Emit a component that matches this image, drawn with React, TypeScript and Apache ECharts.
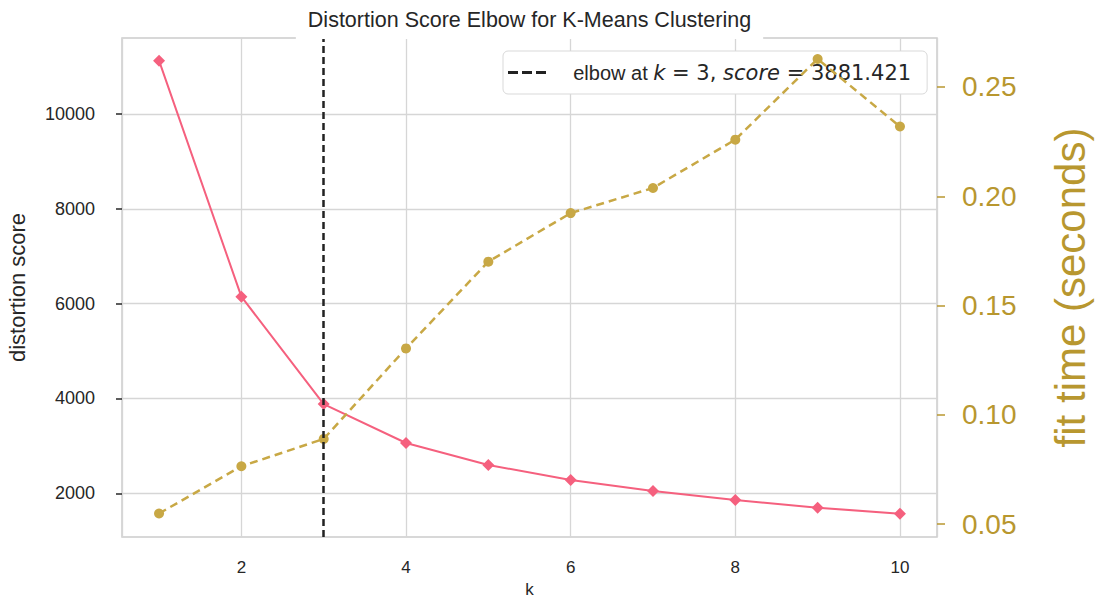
import React, { useEffect, useRef } from "react";
import * as echarts from "echarts";

const kValues = [1, 2, 3, 4, 5, 6, 7, 8, 9, 10];
const distortion = [11127, 6148, 3881.421, 3060, 2596, 2279, 2049, 1858, 1696, 1570];
const fitTime = [0.0549, 0.0765, 0.089, 0.1304, 0.1701, 0.1923, 0.2038, 0.2259, 0.2628, 0.2319];
const elbowK = 3;
const elbowScore = 3881.421;
const xTicks = [2, 4, 6, 8, 10];
const yTicks = [2000, 4000, 6000, 8000, 10000];
const y2Ticks = [0.05, 0.1, 0.15, 0.2, 0.25];

const PINK = "#f5607e";
const GOLD = "#c8a845";
const GOLD_TEXT = "#b8972f";
const TEXT = "#262626";
const FONT = "'Liberation Sans', Arial, sans-serif";

export default function App() {
  const ref = useRef<HTMLDivElement>(null);
  useEffect(() => {
    if (!ref.current) return;
    const chart = echarts.init(ref.current, undefined, { renderer: "svg" });
    const legendName = "elbow";
    chart.setOption({
      animation: false,
      backgroundColor: "#ffffff",
      textStyle: { fontFamily: FONT },
      title: {
        text: "Distortion Score Elbow for K-Means Clustering",
        left: 517.5,
        textAlign: "center",
        top: 0,
        padding: [9, 12, 8, 12],
        backgroundColor: "#ffffff",
        textStyle: { fontSize: 21.5, fontWeight: "normal", color: TEXT, fontFamily: FONT },
        z: 10,
      },
      legend: {
        data: [
          {
            name: legendName,
            icon: "path://M0,0H10V3H0Z M14,0H24V3H14Z M28,0H38V3H28Z",
            itemStyle: { color: "#222222" },
          },
        ],
        left: 503,
        top: 51,
        padding: [11, 16, 11, 5],
        backgroundColor: "#ffffff",
        borderColor: "#d9d9d9",
        borderWidth: 1,
        borderRadius: 5,
        itemWidth: 38,
        itemHeight: 3,
        z: 1,
        selectedMode: false,
        formatter: () =>
          `{n|    elbow at }{i|k}{m| = ${elbowK}, }{i|score}{m| = ${elbowScore}}`,
        textStyle: {
          color: TEXT,
          fontSize: 20,
          rich: {
            n: { fontSize: 20, fontFamily: FONT, color: TEXT },
            i: { fontSize: 21, fontFamily: "'DejaVu Sans'", fontStyle: "italic", color: TEXT },
            m: { fontSize: 21, fontFamily: "'DejaVu Sans'", color: TEXT },
          },
        },
      },
      grid: {
        left: 122,
        right: 160,
        top: 38,
        bottom: 61,
        show: true,
        outerBoundsMode: "none",
        containLabel: false,
        borderColor: "#cccccc",
        borderWidth: 1.5,
        backgroundColor: "#ffffff",
      },
      xAxis: {
        type: "value",
        min: 0.55,
        max: 10.45,
        name: "k",
        nameLocation: "middle",
        nameGap: 42,
        nameTextStyle: { fontSize: 17, color: TEXT },
        axisLine: { show: false },
        axisTick: { show: false },
        axisLabel: {
          customValues: xTicks,
          fontSize: 17,
          color: TEXT,
          margin: 22,
        },
        splitLine: { show: true, lineStyle: { color: "#d6d6d6", width: 1.3 } },
      },
      yAxis: [
        {
          type: "value",
          min: 1077,
          max: 11605,
          name: "distortion score",
          nameLocation: "middle",
          nameGap: 94,
          nameTextStyle: { fontSize: 22, color: TEXT },
          axisLine: { show: false },
          axisTick: { show: true, customValues: yTicks, length: 6, lineStyle: { color: TEXT, width: 1.5 } },
          axisLabel: {
            customValues: yTicks,
            fontSize: 18,
            color: TEXT,
            margin: 27,
            formatter: (v: number) => String(v),
          },
          splitLine: { show: true, lineStyle: { color: "#d6d6d6", width: 1.3 } },
        },
        {
          type: "value",
          min: 0.04415,
          max: 0.2724,
          position: "right",
          name: "fit time (seconds)",
          nameLocation: "middle",
          nameGap: 110,
          nameRotate: 90,
          nameTextStyle: { fontSize: 42, color: GOLD_TEXT, lineHeight: 46 },
          axisLine: { show: false },
          axisTick: { show: true, customValues: y2Ticks, length: 8, lineStyle: { color: GOLD_TEXT, width: 1.5 } },
          axisLabel: {
            customValues: y2Ticks,
            fontSize: 28,
            color: GOLD_TEXT,
            margin: 25,
            formatter: (v: number) => v.toFixed(2),
          },
          splitLine: { show: false },
        },
      ],
      series: [
        {
          name: legendName,
          type: "line",
          data: [],
          symbol: "none",
          z: 2,
          lineStyle: { color: "#222222", width: 2.5, type: [7, 4] },
          itemStyle: { color: "#222222" },
          markLine: {
            silent: true,
            symbol: "none",
            label: { show: false },
            lineStyle: { color: "#222222", width: 2.5, type: [7, 4] },
            data: [{ xAxis: elbowK }],
          },
        },
        {
          name: "distortion",
          type: "line",
          yAxisIndex: 0,
          data: kValues.map((k, i) => [k, distortion[i]]),
          symbol: "diamond",
          symbolSize: 12,
          z: 3,
          lineStyle: { color: PINK, width: 2 },
          itemStyle: { color: PINK },
        },
        {
          name: "fit time",
          type: "line",
          yAxisIndex: 1,
          data: kValues.map((k, i) => [k, fitTime[i]]),
          symbol: "circle",
          symbolSize: 10,
          z: 4,
          lineStyle: { color: GOLD, width: 2.5, type: [8, 5] },
          itemStyle: { color: GOLD },
        },
      ],
    });
    return () => chart.dispose();
  }, []);
  return (
    <div
      ref={ref}
      style={{ position: "fixed", left: 0, top: 0, width: 1097, height: 598 }}
    />
  );
}
